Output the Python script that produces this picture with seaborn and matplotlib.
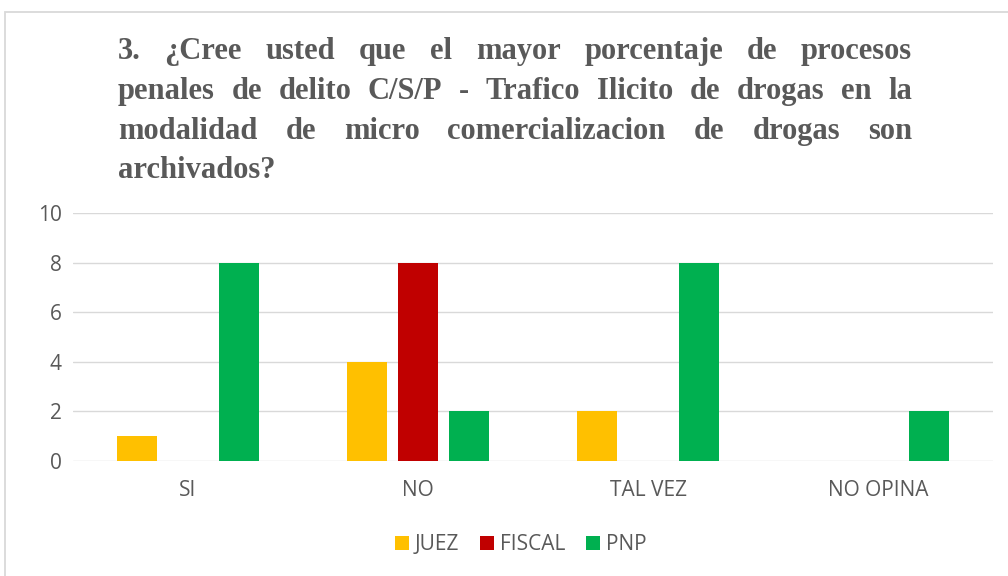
import matplotlib
matplotlib.use("Agg")
import matplotlib.pyplot as plt
import seaborn as sns
import pandas as pd
from matplotlib.patches import Rectangle, Patch

categories = ["SI", "NO", "TAL VEZ", "NO OPINA"]
series = ["JUEZ", "FISCAL", "PNP"]
juez = [1, 4, 2, 0]
fiscal = [0, 8, 0, 0]
pnp = [8, 2, 8, 2]
colors = ["#FFC000", "#C00000", "#00B050"]
yticks = [0, 2, 4, 6, 8, 10]
title_lines = [
    "3. ¿Cree usted que el mayor porcentaje de procesos",
    "penales de delito C/S/P - Trafico Ilicito de drogas en la",
    "modalidad de micro comercializacion de drogas son",
    "archivados?",
]

df = pd.DataFrame({
    "categoria": categories * 3,
    "serie": [s for s in series for _ in categories],
    "valor": juez + fiscal + pnp,
})

sns.set_theme(style="white")
plt.rcParams["font.family"] = ["Open Sans", "DejaVu Sans"]
TXT = "#595959"
FS = 15

W, H = 1008, 576
fig = plt.figure(figsize=(W / 100, H / 100), dpi=100)
fig.patch.set_facecolor("white")
ax = fig.add_axes([73 / W, 1 - 461 / H, 920 / W, 248 / H])

sns.barplot(data=df, x="categoria", y="valor", hue="serie", hue_order=series,
            order=categories, palette=dict(zip(series, colors)), saturation=1,
            width=0.665, gap=0.22, ax=ax, legend=False, linewidth=0,
            edgecolor="none")

ax.set_ylim(0, 10)
ax.set_yticks(yticks)
ax.yaxis.grid(True, color="#D9D9D9", lw=1)
ax.set_axisbelow(True)
for s in ax.spines.values():
    s.set_visible(False)
ax.set_xlabel("")
ax.set_ylabel("")
ax.tick_params(axis="y", length=0, pad=8, labelsize=FS, labelcolor=TXT)
ax.tick_params(axis="x", length=0, pad=14, labelsize=FS, labelcolor=TXT)

handles = [Patch(facecolor=c, edgecolor="none", label=s) for s, c in zip(series, colors)]
leg = ax.legend(handles=handles, loc="center", bbox_to_anchor=(521 / W, 1 - 545 / H),
                bbox_transform=fig.transFigure, ncol=3, frameon=False,
                handlelength=0.65, handleheight=0.65, handletextpad=0.3,
                columnspacing=1.0, fontsize=FS)
for t in leg.get_texts():
    t.set_color(TXT)

fig.patches.append(Rectangle((5 / W, -0.1), 1.1, (1 - 12 / H) + 0.1,
                             transform=fig.transFigure, fill=False,
                             edgecolor="#D9D9D9", lw=1.3))

# justified title
fig.canvas.draw()
renderer = fig.canvas.get_renderer()
left_px, right_px = 118, 912
baselines = [59, 99, 139, 178]
tfont = dict(fontweight="bold", family="Liberation Serif", color=TXT)


def widths(words, size):
    out = []
    for w in words:
        t = fig.text(0, 0, w, fontsize=size, **tfont)
        out.append(t.get_window_extent(renderer).width)
        t.remove()
    return out


base_size = 22
scale = 1.0
for line in title_lines[:3]:
    words = line.split()
    ws = widths(words, base_size)
    need = sum(ws) + (len(words) - 1) * base_size * 0.25 * 100 / 72
    scale = min(scale, (right_px - left_px) / need)
fsize = base_size * scale

for i, line in enumerate(title_lines):
    words = line.split()
    ws = widths(words, fsize)
    if i < len(title_lines) - 1 and len(words) > 1:
        gap = (right_px - left_px - sum(ws)) / (len(words) - 1)
    else:
        gap = fsize * 0.25 * 100 / 72
    x = left_px
    for w, wd in zip(words, ws):
        fig.text(x / W, 1 - baselines[i] / H, w, fontsize=fsize, ha="left",
                 va="baseline", **tfont)
        x += wd + gap

fig.savefig("out.png", dpi=100, facecolor="white")
